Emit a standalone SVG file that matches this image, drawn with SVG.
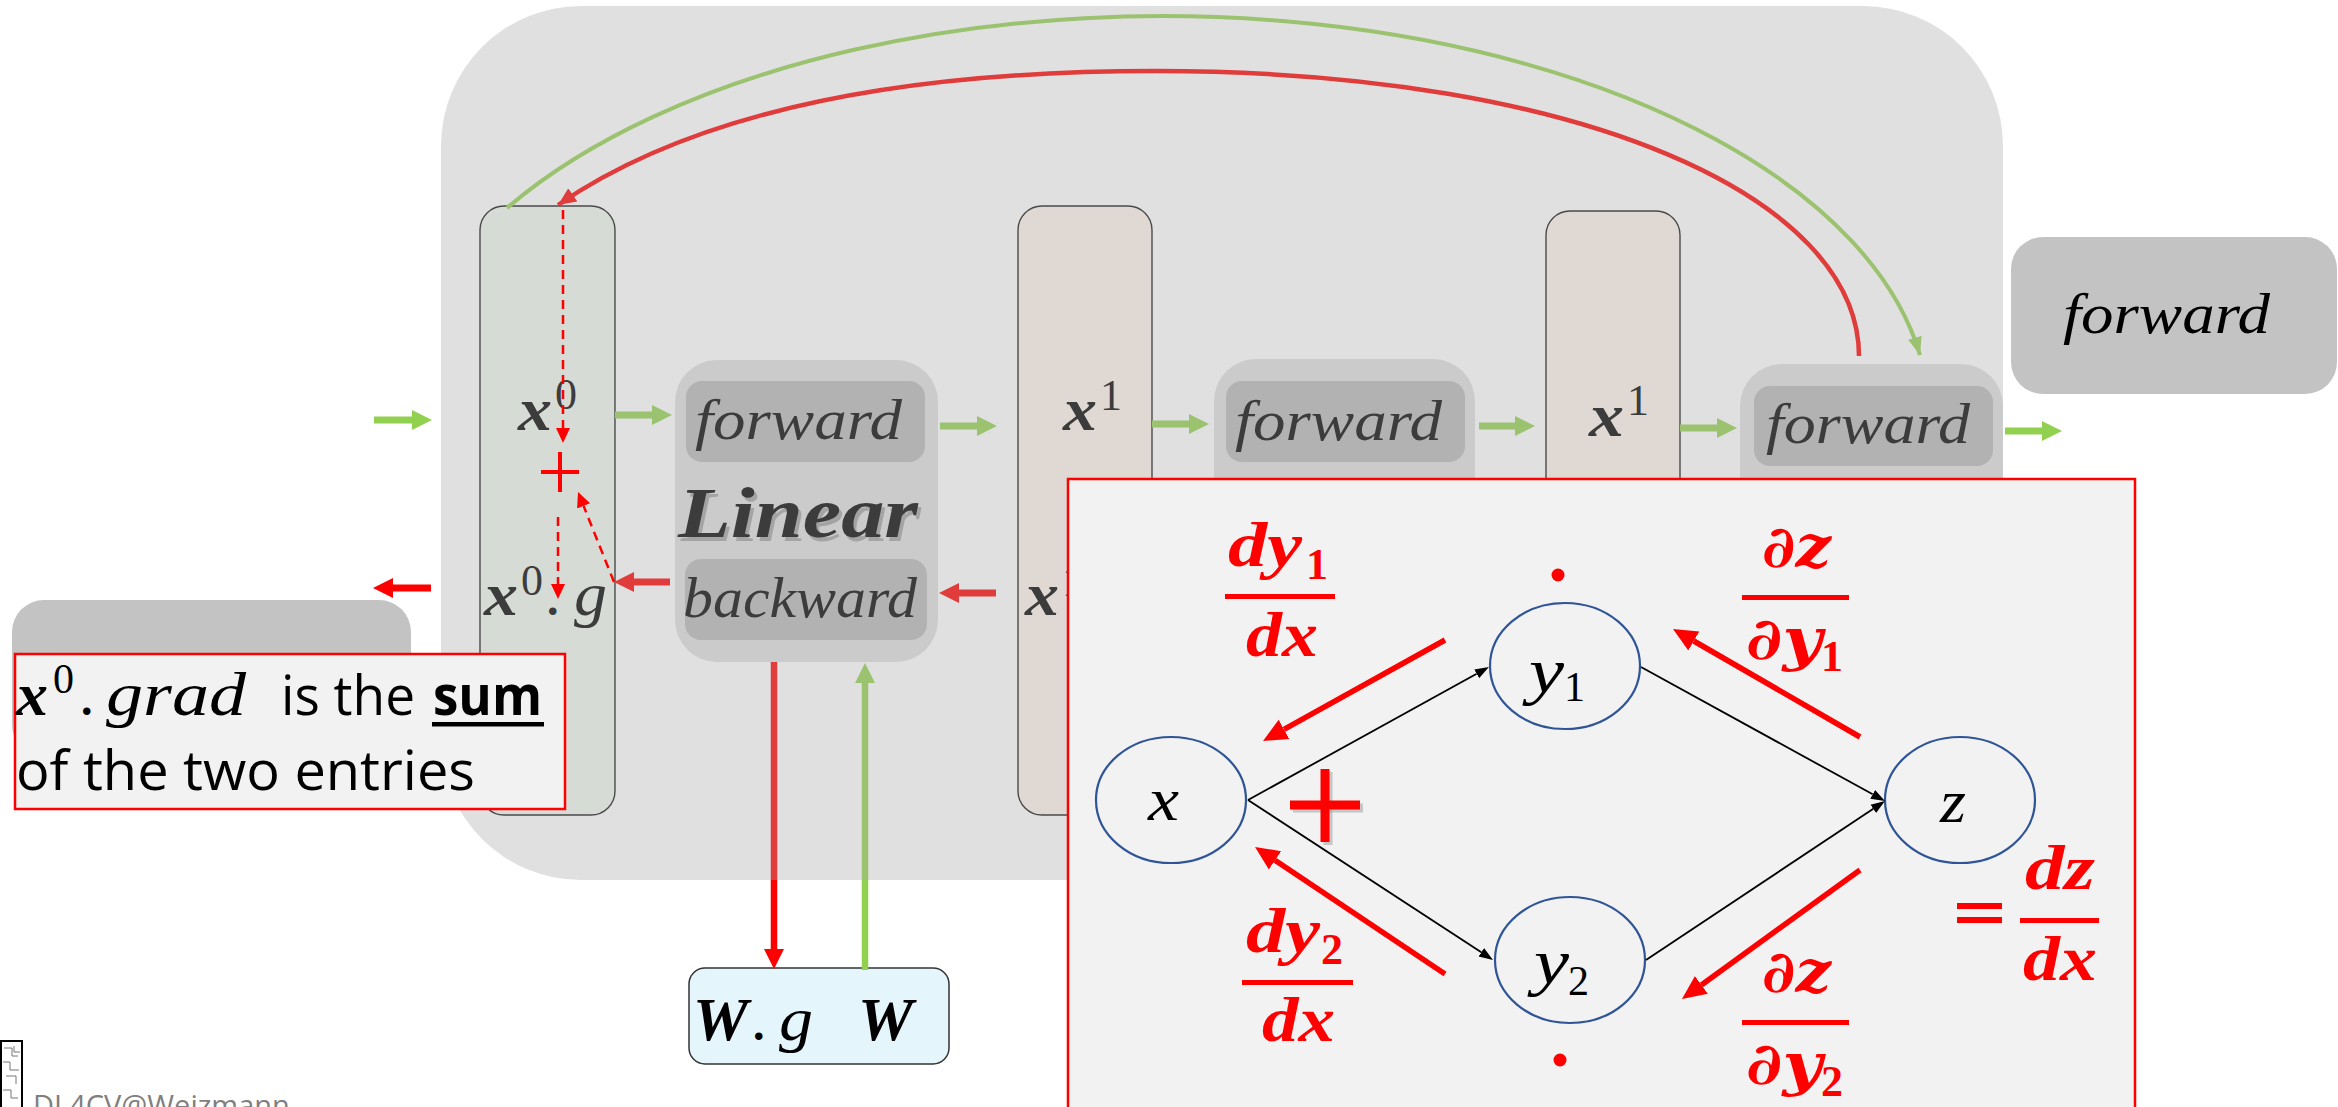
<svg xmlns="http://www.w3.org/2000/svg" width="2338" height="1107" viewBox="0 0 2338 1107">
<style>
.m{font-family:"Liberation Serif","DejaVu Serif",serif;font-style:italic}
.mb{font-family:"Liberation Serif","DejaVu Serif",serif;font-style:italic;font-weight:bold}
.pd{font-family:"DejaVu Serif","Liberation Serif",serif;font-style:italic;font-weight:bold}
.up{font-family:"Liberation Serif","DejaVu Serif",serif}
.upb{font-family:"Liberation Serif","DejaVu Serif",serif;font-weight:bold}
.sans{font-family:"Open Sans","Liberation Sans",sans-serif}
.fd{fill:#3c3c3c}
.col0{fill:#d6dbd6;stroke:#4a4a4a;stroke-width:1.4}
.col1{fill:#dfd8d3;stroke:#4a4a4a;stroke-width:1.4}
.blk{fill:#cbcbcb}
.inn{fill:#b2b2b2}
.gi{stroke:#9ac26f;stroke-width:7;fill:none}
.go{stroke:#92d050;stroke-width:7;fill:none}
.ri{stroke:#e03c3c;stroke-width:7;fill:none}
.ro{stroke:#ff0000;stroke-width:7;fill:none}
.dash{stroke:#ff0000;stroke-width:2.5;stroke-dasharray:9 6;fill:none}
.thin{stroke:#000;stroke-width:1.8;fill:none}
.rp{stroke:#ff0000;stroke-width:5.5;fill:none}
.node{fill:#f2f2f2;stroke:#2f5597;stroke-width:2.2}
.red{fill:#ff0000}
</style>
<defs>
<marker id="hgi" markerUnits="userSpaceOnUse" markerWidth="22" markerHeight="22" viewBox="0 -11 22 22" refX="0" refY="0" orient="auto"><path d="M0,-10 L20,0 L0,10 z" fill="#9ac26f"/></marker>
<marker id="hgo" markerUnits="userSpaceOnUse" markerWidth="22" markerHeight="22" viewBox="0 -11 22 22" refX="0" refY="0" orient="auto"><path d="M0,-10 L20,0 L0,10 z" fill="#92d050"/></marker>
<marker id="hri" markerUnits="userSpaceOnUse" markerWidth="22" markerHeight="22" viewBox="0 -11 22 22" refX="0" refY="0" orient="auto"><path d="M0,-10 L20,0 L0,10 z" fill="#e03c3c"/></marker>
<marker id="hro" markerUnits="userSpaceOnUse" markerWidth="22" markerHeight="22" viewBox="0 -11 22 22" refX="0" refY="0" orient="auto"><path d="M0,-10 L20,0 L0,10 z" fill="#ff0000"/></marker>
<marker id="hd" markerUnits="userSpaceOnUse" markerWidth="16" markerHeight="16" viewBox="0 -8 16 16" refX="0" refY="0" orient="auto"><path d="M0,-7 L15,0 L0,7 z" fill="#ff0000"/></marker>
<marker id="hb" markerUnits="userSpaceOnUse" markerWidth="16" markerHeight="12" viewBox="0 -6 16 12" refX="0" refY="0" orient="auto"><path d="M0,-5 L14,0 L0,5 z" fill="#000"/></marker>
<marker id="hp" markerUnits="userSpaceOnUse" markerWidth="26" markerHeight="24" viewBox="0 -12 26 24" refX="0" refY="0" orient="auto"><path d="M0,-11 L24,0 L0,11 z" fill="#ff0000"/></marker>
<marker id="hga" markerUnits="userSpaceOnUse" markerWidth="20" markerHeight="16" viewBox="0 -8 20 16" refX="18" refY="0" orient="auto"><path d="M0,-7 L18,0 L0,7 z" fill="#9ac26f"/></marker>
<marker id="hra" markerUnits="userSpaceOnUse" markerWidth="20" markerHeight="18" viewBox="0 -9 20 18" refX="18" refY="0" orient="auto"><path d="M0,-8 L18,0 L0,8 z" fill="#e03c3c"/></marker>
<linearGradient id="gvr" gradientUnits="userSpaceOnUse" x1="0" y1="660" x2="0" y2="975"><stop offset="0" stop-color="#e03c3c"/><stop offset="0.698" stop-color="#e03c3c"/><stop offset="0.698" stop-color="#ff0000"/><stop offset="1" stop-color="#ff0000"/></linearGradient>
<linearGradient id="gvg" gradientUnits="userSpaceOnUse" x1="0" y1="660" x2="0" y2="975"><stop offset="0" stop-color="#9ac26f"/><stop offset="0.698" stop-color="#9ac26f"/><stop offset="0.698" stop-color="#92d050"/><stop offset="1" stop-color="#92d050"/></linearGradient>
</defs>
<rect width="2338" height="1107" fill="#fff"/>
<g id="module-bg"><rect x="441" y="6" width="1562" height="874" rx="140" fill="#e0e0e0"/></g>

<g id="x0-column">
<rect x="480" y="206" width="135" height="609" rx="24" class="col0"/>
<text class="mb fd" x="518" y="430" font-size="62" textLength="34" lengthAdjust="spacingAndGlyphs">x</text>
<text class="up fd" x="555" y="409" font-size="44">0</text>
<text class="mb fd" x="484" y="615" font-size="62" textLength="34" lengthAdjust="spacingAndGlyphs">x</text>
<text class="up fd" x="521" y="595" font-size="44">0</text>
<text class="upb fd" x="547" y="615" font-size="46">.</text>
<text class="m fd" x="574" y="615" font-size="62" textLength="33" lengthAdjust="spacingAndGlyphs">g</text>
</g>

<g id="x1-column">
<rect x="1018" y="206" width="134" height="609" rx="24" class="col1"/>
<text class="mb fd" x="1063" y="430" font-size="62" textLength="34" lengthAdjust="spacingAndGlyphs">x</text>
<text class="up fd" x="1100" y="410" font-size="44">1</text>
<text class="mb fd" x="1025" y="615" font-size="62" textLength="34" lengthAdjust="spacingAndGlyphs">x</text>
<text class="up fd" x="1062" y="596" font-size="44">1</text>
</g>

<g id="x1b-column">
<rect x="1546" y="211" width="134" height="604" rx="24" class="col1"/>
<text class="mb fd" x="1589" y="436" font-size="62" textLength="35" lengthAdjust="spacingAndGlyphs">x</text>
<text class="up fd" x="1627" y="415" font-size="44">1</text>
</g>

<g id="linear-1">
<rect x="675" y="360" width="263" height="302" rx="42" class="blk"/>
<rect x="686" y="381" width="239" height="81" rx="16" class="inn"/>
<rect x="685" y="559" width="242" height="81" rx="16" class="inn"/>
<text class="m fd" x="695" y="439" font-size="56" textLength="207" lengthAdjust="spacingAndGlyphs">forward</text>
<text class="mb" x="681" y="541" font-size="72" textLength="240" lengthAdjust="spacingAndGlyphs" fill="#8a8a8a" fill-opacity="0.6">Linear</text>
<text class="mb fd" x="678" y="537" font-size="72" textLength="240" lengthAdjust="spacingAndGlyphs">Linear</text>
<text class="m fd" x="683" y="617" font-size="56" textLength="234" lengthAdjust="spacingAndGlyphs">backward</text>
</g>

<g id="linear-2">
<rect x="1214" y="359" width="261" height="303" rx="42" class="blk"/>
<rect x="1226" y="381" width="239" height="81" rx="16" class="inn"/>
<text class="m fd" x="1235" y="440" font-size="56" textLength="207" lengthAdjust="spacingAndGlyphs">forward</text>
</g>

<g id="linear-3">
<rect x="1740" y="364" width="263" height="300" rx="42" class="blk"/>
<rect x="1754" y="386" width="239" height="80" rx="16" class="inn"/>
<text class="m fd" x="1766" y="443" font-size="56" textLength="204" lengthAdjust="spacingAndGlyphs">forward</text>
</g>

<g id="forward-box">
<rect x="2011" y="237" width="326" height="157" rx="32" fill="#c3c3c3"/>
<text class="m" x="2063" y="333" font-size="56" textLength="207" lengthAdjust="spacingAndGlyphs" fill="#000">forward</text>
</g>

<g id="weights-box">
<rect x="689" y="968" width="260" height="96" rx="16" fill="#e5f5fc" stroke="#333" stroke-width="1.5"/>
<text class="mb" x="693" y="1040" font-size="62" fill="#000">W</text>
<text class="upb" x="753" y="1040" font-size="46" fill="#000">.</text>
<text class="m" x="779" y="1040" font-size="62" textLength="34" lengthAdjust="spacingAndGlyphs" fill="#000">g</text>
<text class="mb" x="858" y="1040" font-size="62" fill="#000">W</text>
</g>

<g id="connectors">
<line x1="374" y1="420" x2="412" y2="420" class="go" marker-end="url(#hgo)"/>
<line x1="615" y1="415" x2="652" y2="415" class="gi" marker-end="url(#hgi)"/>
<line x1="940" y1="426" x2="977" y2="426" class="gi" marker-end="url(#hgi)"/>
<line x1="1152" y1="424" x2="1189" y2="424" class="gi" marker-end="url(#hgi)"/>
<line x1="1479" y1="426" x2="1515" y2="426" class="gi" marker-end="url(#hgi)"/>
<line x1="1680" y1="428" x2="1717" y2="428" class="gi" marker-end="url(#hgi)"/>
<line x1="2005" y1="431" x2="2042" y2="431" class="go" marker-end="url(#hgo)"/>
<line x1="431" y1="588" x2="393" y2="588" class="ro" marker-end="url(#hro)"/>
<line x1="670" y1="582" x2="634" y2="582" class="ri" marker-end="url(#hri)"/>
<line x1="996" y1="593" x2="959" y2="593" class="ri" marker-end="url(#hri)"/>
<path d="M774 662 L774 949" stroke="url(#gvr)" stroke-width="6.5" fill="none" marker-end="url(#hro)"/>
<path d="M865 970 L865 683" stroke="url(#gvg)" stroke-width="6.5" fill="none" marker-end="url(#hgi)"/>
<path d="M507 208 A767 400 0 0 1 1920 355" stroke="#9ac26f" stroke-width="4" fill="none" marker-end="url(#hga)"/>
<path d="M1859 356 C1859 199 1585 71 1155 71 C955 71 718 95 558 205" stroke="#e03c3c" stroke-width="4.5" fill="none" marker-end="url(#hra)"/>
<line x1="563" y1="210" x2="563" y2="428" class="dash" marker-end="url(#hd)"/>
<line x1="558" y1="517" x2="558" y2="584" class="dash" marker-end="url(#hd)"/>
<line x1="614" y1="582" x2="583.6" y2="505.9" class="dash" marker-end="url(#hd)"/>
</g>

<g id="sum-plus" stroke="#ff0000" stroke-width="4">
<line x1="541" y1="472" x2="579" y2="472"/>
<line x1="560" y1="452" x2="560" y2="492"/>
</g>

<g id="left-box"><rect x="12" y="600" width="399" height="157" rx="32" fill="#c3c3c3"/></g>

<g id="note-box">
<rect x="15" y="654" width="550" height="155" fill="#f2f2f2" stroke="#ff0000" stroke-width="2.5"/>
<text class="mb" x="16" y="715" font-size="62" textLength="32" lengthAdjust="spacingAndGlyphs" fill="#000">x</text>
<text class="up" x="53" y="693" font-size="42" fill="#000">0</text>
<text class="upb" x="81" y="715" font-size="46" fill="#000">.</text>
<text class="m" x="106" y="715" font-size="62" textLength="140" lengthAdjust="spacingAndGlyphs" fill="#000">grad</text>
<text class="sans" x="281" y="715" font-size="55" textLength="134" lengthAdjust="spacingAndGlyphs" fill="#000">is the</text>
<text class="sans" x="433" y="715" font-size="55" font-weight="bold" textLength="109" lengthAdjust="spacingAndGlyphs" fill="#000">sum</text>
<rect x="432" y="722" width="112" height="4.5" fill="#000"/>
<text class="sans" x="16" y="790" font-size="55" textLength="459" lengthAdjust="spacingAndGlyphs" fill="#000">of the two entries</text>
</g>

<g id="panel">
<rect x="1068" y="479" width="1067" height="660" fill="#f2f2f2" stroke="#ff0000" stroke-width="2.5"/>
</g>

<g id="node-x"><ellipse cx="1171" cy="800" rx="75" ry="63" class="node"/><text class="m" x="1148" y="820" font-size="62" textLength="31" lengthAdjust="spacingAndGlyphs" fill="#000">x</text></g>
<g id="node-y1"><ellipse cx="1565" cy="666" rx="75" ry="63" class="node"/><text class="m" x="1529" y="692" font-size="64" textLength="35" lengthAdjust="spacingAndGlyphs" fill="#000">y</text><text class="up" x="1564" y="701" font-size="42" fill="#000">1</text></g>
<g id="node-y2"><ellipse cx="1570" cy="960" rx="75" ry="63" class="node"/><text class="m" x="1534" y="983" font-size="64" textLength="35" lengthAdjust="spacingAndGlyphs" fill="#000">y</text><text class="up" x="1568" y="995" font-size="42" fill="#000">2</text></g>
<g id="node-z"><ellipse cx="1960" cy="800" rx="75" ry="63" class="node"/><text class="m" x="1940" y="822" font-size="62" textLength="26" lengthAdjust="spacingAndGlyphs" fill="#000">z</text></g>

<g id="graph-connectors">
<line x1="1248" y1="800" x2="1476.7" y2="673.8" class="thin" marker-end="url(#hb)"/>
<line x1="1248" y1="800" x2="1481.3" y2="952.3" class="thin" marker-end="url(#hb)"/>
<line x1="1641" y1="667" x2="1872.7" y2="794.3" class="thin" marker-end="url(#hb)"/>
<line x1="1646" y1="960" x2="1873.3" y2="808.8" class="thin" marker-end="url(#hb)"/>
<line x1="1445" y1="640" x2="1284" y2="729.4" class="rp" marker-end="url(#hp)"/>
<line x1="1445" y1="974" x2="1275" y2="860.3" class="rp" marker-end="url(#hp)"/>
<line x1="1860" y1="737" x2="1693.8" y2="641" class="rp" marker-end="url(#hp)"/>
<line x1="1860" y1="870" x2="1701.4" y2="984.9" class="rp" marker-end="url(#hp)"/>
</g>

<g id="panel-plus">
<g stroke="#999" stroke-opacity="0.5" stroke-width="9" transform="translate(3,3)"><line x1="1290" y1="805" x2="1360" y2="805"/><line x1="1325" y1="769" x2="1325" y2="842"/></g>
<g stroke="#ff0000" stroke-width="9"><line x1="1290" y1="805" x2="1360" y2="805"/><line x1="1325" y1="769" x2="1325" y2="842"/></g>
</g>

<g id="fractions" class="red">
<text class="mb" x="1228" y="566" font-size="64" textLength="74" lengthAdjust="spacingAndGlyphs">dy</text>
<text class="upb" x="1306" y="579" font-size="44">1</text>
<rect x="1225" y="594" width="110" height="5"/>
<text class="mb" x="1246" y="656" font-size="64" textLength="72" lengthAdjust="spacingAndGlyphs">dx</text>

<text class="mb" x="1246" y="952" font-size="64" textLength="74" lengthAdjust="spacingAndGlyphs">dy</text>
<text class="upb" x="1321" y="964" font-size="44">2</text>
<rect x="1242" y="980" width="111" height="5"/>
<text class="mb" x="1262" y="1041" font-size="64" textLength="73" lengthAdjust="spacingAndGlyphs">dx</text>

<text class="pd" x="1762" y="567" font-size="58" textLength="69" lengthAdjust="spacingAndGlyphs">∂z</text>
<rect x="1742" y="595" width="107" height="5"/>
<text class="pd" x="1746" y="659" font-size="58" textLength="76" lengthAdjust="spacingAndGlyphs">∂y</text>
<text class="upb" x="1821" y="671" font-size="44">1</text>

<text class="pd" x="1762" y="992" font-size="58" textLength="69" lengthAdjust="spacingAndGlyphs">∂z</text>
<rect x="1742" y="1020" width="107" height="5"/>
<text class="pd" x="1746" y="1084" font-size="58" textLength="76" lengthAdjust="spacingAndGlyphs">∂y</text>
<text class="upb" x="1821" y="1096" font-size="44">2</text>

<rect x="1957" y="903" width="45" height="6"/>
<rect x="1957" y="917" width="45" height="6"/>
<text class="mb" x="2025" y="889" font-size="64" textLength="70" lengthAdjust="spacingAndGlyphs">dz</text>
<rect x="2020" y="918" width="79" height="5"/>
<text class="mb" x="2023" y="980" font-size="64" textLength="74" lengthAdjust="spacingAndGlyphs">dx</text>

<circle cx="1558" cy="575" r="6.5"/>
<circle cx="1560" cy="1060" r="6.5"/>
</g>

<g id="footer">
<rect x="1" y="1041" width="21" height="70" fill="#fff" stroke="#000" stroke-width="2"/>
<g stroke="#777" stroke-width="1" fill="none">
<path d="M4 1048 H12 V1056 H18"/><path d="M3 1062 H10 V1070 H19"/><path d="M6 1076 H16 V1084"/><path d="M3 1090 H11 V1098 H18"/><path d="M14 1046 V1052 H20"/>
</g>
<text class="sans" x="33" y="1116" font-size="29" fill="#7f7f7f">DL4CV@Weizmann</text>
</g>
</svg>
